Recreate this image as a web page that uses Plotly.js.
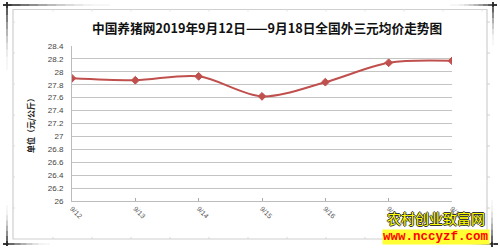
<!DOCTYPE html>
<html>
<head>
<meta charset="utf-8">
<script src="https://cdn.plot.ly/plotly-3.0.1.min.js"></script>
<style>
html,body{margin:0;padding:0;background:#fff;}
#chart{width:500px;height:249px;}
</style>
</head>
<body>
<div id="chart"></div>
<script>
const categories = ['9/12','9/13','9/14','9/15','9/16','9/17','9/18'];
const prices = [27.90, 27.87, 27.93, 27.62, 27.84, 28.14, 28.17];
const yTickVals = [26, 26.2, 26.4, 26.6, 26.8, 27, 27.2, 27.4, 27.6, 27.8, 28, 28.2, 28.4];
const yTickText = ['26','26.2','26.4','26.6','26.8','27','27.2','27.4','27.6','27.8','28','28.2','28.4'];
const titleText = '中国养猪网2019年9月12日——9月18日全国外三元均价走势图';
const yTitleText = '单位（元/公斤）';
const watermark1 = '农村创业致富网';
const watermark2 = 'www.nccyzf.com';

const W = 500, H = 249;
const M = {l: 72, r: 48, t: 46, b: 48};
const PW = W - M.l - M.r, PH = H - M.t - M.b;
function px(x){ return (x - M.l) / PW; }
function py(y){ return (H - M.b - y) / PH; }

const shapes = [];
function seg(x0,y0,x1,y1,color,width,opacity){
  shapes.push({type:'line', xref:'paper', yref:'paper', x0:px(x0), y0:py(y0), x1:px(x1), y1:py(y1),
    line:{color:color, width:width}, opacity:opacity, layer:'above'});
}
function fade(xa,ya,xb,yb,n,w){
  for(let i=0;i<n;i++){
    const t0=i/n, t1=(i+1)/n;
    seg(xa+(xb-xa)*t0, ya+(yb-ya)*t0, xa+(xb-xa)*t1, ya+(yb-ya)*t1, '#222', w, Math.max(0.03, 0.9*(1-t0)*(1-t0)));
  }
}
shapes.push({type:'rect', xref:'paper', yref:'paper', x0:px(13), y0:py(239), x1:px(487), y1:py(9.5),
  line:{color:'#cfcfcf', width:1.2}, fillcolor:'rgba(0,0,0,0)', layer:'below'});
for(let x=53; x<487; x+=39){ seg(x,237,x,239,'#d8d8d8',1,1); seg(x,9.5,x,11.5,'#e2e2e2',1,1); }
for(let y=22; y<239; y+=31){ seg(13,y,15,y,'#dcdcdc',1,1); seg(487,y,490,y,'#d0d0d0',1,1); }
fade(3,5,110,5,12,2);
fade(7,2,7,70,10,2);
fade(497,5,450,5,10,2);
fade(493,2,493,45,8,2);
fade(7,246,7,205,8,2);
fade(3,244,50,244,8,2);
fade(492,247,492,200,8,2);
fade(498,244,465,244,8,2);

const trace = {
  x: categories, y: prices, type:'scatter', mode:'lines+markers',
  line:{color:'#c0504d', width:2, shape:'spline', smoothing:0.9},
  marker:{symbol:'diamond', size:6, color:'#c0504d', line:{color:'#c0504d', width:1}},
  hoverinfo:'none'
};

const layout = {
  width:W, height:H, margin:M, paper_bgcolor:'#fff', plot_bgcolor:'#fff',
  showlegend:false,
  xaxis:{type:'category', range:[0,6], showgrid:false, zeroline:false,
    showline:true, linecolor:'#bcbcbc', linewidth:1,
    ticks:'inside', ticklen:3, tickcolor:'#aaa',
    tickangle:45, tickfont:{family:'Liberation Sans, Arial', size:7, color:'#555'}},
  yaxis:{range:[26,28.4], tickvals:yTickVals, ticktext:yTickText,
    showgrid:true, gridcolor:'#c4c4c4', gridwidth:1, zeroline:false,
    showline:true, linecolor:'#bcbcbc', linewidth:1, ticks:'', ticklabelstandoff:6,
    tickfont:{family:'Liberation Sans, Arial', size:8, color:'#444'},
    title:{text:yTitleText, standoff:12, font:{family:'Noto Sans CJK SC', size:8, color:'#222', weight:'bold'}}},
  shapes:shapes,
  annotations:[
    {text:titleText, xref:'paper', yref:'paper', x:px(267), y:py(27), xanchor:'center', yanchor:'middle',
      showarrow:false, font:{family:'Noto Sans CJK SC', size:12.7, color:'#111', weight:'bold'}},
    {text:watermark1, xref:'paper', yref:'paper', x:px(436), y:py(218.5), xanchor:'center', yanchor:'middle',
      showarrow:false, borderpad:0, font:{family:'Noto Sans CJK SC', size:14, color:'#ffff00',
      shadow:'1px 0 0 #333, -1px 0 0 #333, 0 1px 0 #333, 0 -1px 0 #333'}},
    {text:watermark2, xref:'paper', yref:'paper', x:px(436), y:py(237), xanchor:'center', yanchor:'middle',
      showarrow:false, bgcolor:'#ffff33', borderpad:0,
      font:{family:'Liberation Mono, Courier New', size:12.5, color:'#ff0000', weight:'bold'}}
  ]
};
Plotly.newPlot('chart',[trace],layout,{staticPlot:true, displayModeBar:false});
</script>
</body>
</html>
